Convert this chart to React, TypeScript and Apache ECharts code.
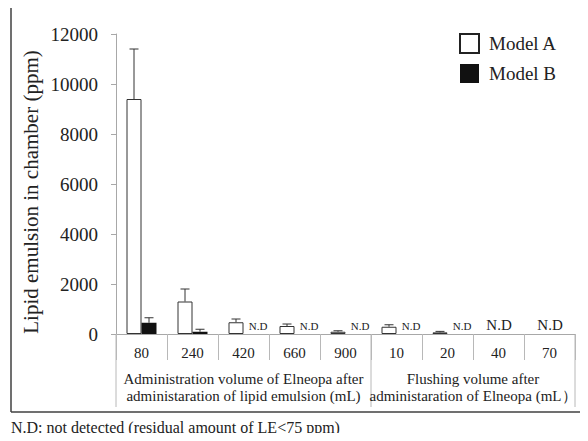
import React, { useEffect, useRef } from "react";
import * as echarts from "echarts";

const categories = ["80", "240", "420", "660", "900", "10", "20", "40", "70"];
const modelA: (number | null)[] = [9400, 1300, 470, 320, 90, 290, 65, null, null];
const modelAErr: (number | null)[] = [2000, 500, 130, 80, 40, 80, 40, null, null];
const modelB: (number | null)[] = [450, 90, null, null, null, null, null, null, null];
const modelBErr: (number | null)[] = [200, 100, null, null, null, null, null, null, null];
// "B" = only Model B not detected, "AB" = both not detected
const ndFlags: (string | null)[] = [null, null, "B", "B", "B", "B", "B", "AB", "AB"];
const yTicks = { min: 0, max: 12000, interval: 2000 };
const yTitle = "Lipid emulsion in chamber (ppm)";
const groupTitles = [
  { from: 0, to: 5, lines: ["Administration volume of Elneopa after", "administaration of lipid emulsion (mL)"] },
  { from: 5, to: 9, lines: ["Flushing volume after", "administaration of Elneopa (mL）"] },
];
const footnote = "N.D: not detected (residual amount of LE<75 ppm)";

const FONT = "'Liberation Serif', 'Times New Roman', serif";
const GRID = { left: 116, top: 34, right: 13, bottom: 107 };
const W = 588;
const H = 441;
const BAR_W = 15;

export default function App() {
  const ref = useRef<HTMLDivElement>(null);
  useEffect(() => {
    if (!ref.current) return;
    const chart = echarts.init(ref.current, null, { renderer: "svg" });
    const plotW = W - GRID.left - GRID.right;
    const catW = plotW / categories.length;
    const axisY = H - GRID.bottom;

    const bData = modelB.map((v, i) => {
      const f = ndFlags[i];
      if (f === "B") {
        return {
          value: 0,
          itemStyle: { color: "transparent", borderWidth: 0 },
          label: { show: true, formatter: "N.D", position: "top", distance: 3, offset: [7, 0], fontSize: 11, fontFamily: FONT, color: "#222" },
        };
      }
      if (f === "AB") {
        return {
          value: 0,
          itemStyle: { color: "transparent", borderWidth: 0 },
          label: { show: true, formatter: "N.D", position: "top", distance: 2, offset: [-7, 0], fontSize: 15, fontFamily: FONT, color: "#222" },
        };
      }
      return v;
    });

    const errSeries = (vals: (number | null)[], errs: (number | null)[], sign: number, name: string) => ({
      type: "custom",
      name: name + " err",
      z: 5,
      silent: true,
      data: vals
        .map((v, i) => (v != null && errs[i] != null ? [i, v, errs[i]] : null))
        .filter((d) => d != null),
      renderItem: (params: any, api: any) => {
        const i = api.value(0);
        const v = api.value(1);
        const e = api.value(2);
        const p0 = api.coord([i, v]);
        const p1 = api.coord([i, v + e]);
        const x = p0[0] + sign * (BAR_W / 2);
        return {
          type: "group",
          children: [
            { type: "line", shape: { x1: x, y1: p0[1], x2: x, y2: p1[1] }, style: { stroke: "#333", lineWidth: 1 } },
            { type: "line", shape: { x1: x - 4.5, y1: p1[1], x2: x + 4.5, y2: p1[1] }, style: { stroke: "#333", lineWidth: 1 } },
          ],
        };
      },
    });

    const graphics: any[] = [
      { type: "line", shape: { x1: 11, y1: 6, x2: W, y2: 6 }, style: { stroke: "#a0a0a0", lineWidth: 2 } },
      { type: "line", shape: { x1: 11, y1: 6, x2: 11, y2: 412 }, style: { stroke: "#404040", lineWidth: 1.5 } },
      { type: "line", shape: { x1: 11, y1: 412, x2: W, y2: 412 }, style: { stroke: "#404040", lineWidth: 1.5 } },
      {
        type: "text",
        x: 31,
        y: 192,
        rotation: Math.PI / 2,
        style: { text: yTitle, fontSize: 21, fontFamily: FONT, fill: "#222", align: "center", verticalAlign: "middle" },
      },
    ];
    const sepIdx = [0, 5, 9];
    sepIdx.forEach((k) => {
      const x = GRID.left + k * catW;
      graphics.push({ type: "line", shape: { x1: x, y1: axisY, x2: x, y2: 407 }, style: { stroke: "#b8b8b8", lineWidth: 1 } });
    });
    groupTitles.forEach((g) => {
      const cx = GRID.left + ((g.from + g.to) / 2) * catW;
      g.lines.forEach((t, li) => {
        graphics.push({
          type: "text",
          x: cx,
          y: 379 + li * 17,
          style: { text: t, fontSize: 15, fontFamily: FONT, fill: "#222", align: "center", verticalAlign: "middle" },
        });
      });
    });
    graphics.push({
      type: "text",
      x: 11,
      y: 427,
      style: { text: footnote, fontSize: 16, fontFamily: FONT, fill: "#222", align: "left", verticalAlign: "middle" },
    });

    chart.setOption({
      animation: false,
      backgroundColor: "#fff",
      textStyle: { fontFamily: FONT },
      grid: { ...GRID, containLabel: false },
      legend: {
        left: 459,
        top: 33,
        padding: 0,
        orient: "vertical",
        itemWidth: 19,
        itemHeight: 19,
        itemGap: 10,
        icon: "rect",
        textStyle: { fontSize: 19, fontFamily: FONT, color: "#222", padding: [0, 0, 0, 5] },
        data: [
          { name: "Model A", itemStyle: { color: "#fff", borderColor: "#222", borderWidth: 2 } },
          { name: "Model B", itemStyle: { color: "#111", borderWidth: 0 } },
        ],
        selectedMode: false,
      },
      xAxis: {
        type: "category",
        data: categories,
        axisLine: { lineStyle: { color: "#a8a8a8", width: 1 } },
        axisTick: { show: true, length: 26, interval: 0, lineStyle: { color: "#b8b8b8" } },
        axisLabel: { fontSize: 15, fontFamily: FONT, color: "#222", margin: 11, interval: 0 },
      },
      yAxis: {
        type: "value",
        min: yTicks.min,
        max: yTicks.max,
        interval: yTicks.interval,
        axisLine: { show: true, lineStyle: { color: "#a8a8a8", width: 1 } },
        axisTick: { show: true, length: 5, lineStyle: { color: "#a8a8a8" } },
        splitLine: { show: false },
        axisLabel: { fontSize: 19, fontFamily: FONT, color: "#222", margin: 18, formatter: (v: number) => String(v) },
      },
      series: [
        {
          name: "Model A",
          type: "bar",
          barWidth: BAR_W,
          barGap: "0%",
          itemStyle: { color: "#fff", borderColor: "#333", borderWidth: 1 },
          data: modelA.map((v, i) =>
            ndFlags[i] === "AB" ? { value: 0, itemStyle: { color: "transparent", borderWidth: 0 } } : v
          ),
        },
        {
          name: "Model B",
          type: "bar",
          barWidth: BAR_W,
          barGap: "0%",
          itemStyle: { color: "#111", borderColor: "#111", borderWidth: 0 },
          data: bData,
        },
        errSeries(modelA, modelAErr, -1, "Model A"),
        errSeries(modelB, modelBErr, 1, "Model B"),
      ],
      graphic: graphics,
    });
    return () => chart.dispose();
  }, []);
  return <div ref={ref} style={{ width: W, height: H, margin: -8 }} />;
}
